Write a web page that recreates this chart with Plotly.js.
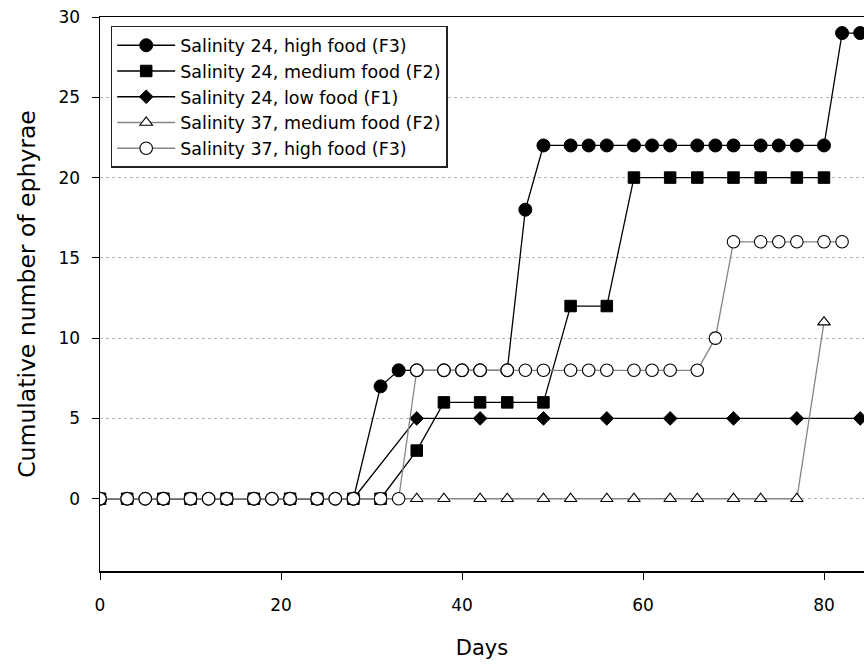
<!DOCTYPE html>
<html>
<head>
<meta charset="utf-8">
<script src="https://cdn.plot.ly/plotly-3.0.1.min.js"></script>
<style>html,body{margin:0;padding:0;background:#fff;}#chart{width:864px;height:664px;}</style>
</head>
<body>
<div id="chart"></div>
<script>
// Data
const seriesNames = [
  "Salinity 24, high food (F3)",
  "Salinity 24, medium food (F2)",
  "Salinity 24, low food (F1)",
  "Salinity 37, medium food (F2)",
  "Salinity 37, high food (F3)"
];

const daysS24F3 = [0,3,5,7,10,12,14,17,19,21,24,26,28,31,33,35,38,40,42,45,47,49,52,54,56,59,61,63,66,68,70,73,75,77,80,82,84];
const valsS24F3 = [0,0,0,0,0,0,0,0,0,0,0,0,0,7,8,8,8,8,8,8,18,22,22,22,22,22,22,22,22,22,22,22,22,22,22,29,29];

const daysS24F2 = [0,3,7,10,14,17,21,24,28,31,35,38,42,45,49,52,56,59,63,66,70,73,77,80];
const valsS24F2 = [0,0,0,0,0,0,0,0,0,0,3,6,6,6,6,12,12,20,20,20,20,20,20,20];

const daysS24F1 = [0,7,14,21,28,35,42,49,56,63,70,77,84];
const valsS24F1 = [0,0,0,0,0,5,5,5,5,5,5,5,5];

const daysS37F2 = [0,3,7,10,14,17,21,24,28,31,35,38,42,45,49,52,56,59,63,66,70,73,77,80];
const valsS37F2 = [0,0,0,0,0,0,0,0,0,0,0,0,0,0,0,0,0,0,0,0,0,0,0,11];

const daysS37F3 = [0,3,5,7,10,12,14,17,19,21,24,26,28,31,33,35,38,40,42,45,47,49,52,54,56,59,61,63,66,68,70,73,75,77,80,82];
const valsS37F3 = [0,0,0,0,0,0,0,0,0,0,0,0,0,0,0,8,8,8,8,8,8,8,8,8,8,8,8,8,8,10,16,16,16,16,16,16];

const xTickVals = [0,20,40,60,80];
const yTickVals = [0,5,10,15,20,25,30];

const FONT = "DejaVu Sans, Arial, sans-serif";
const BLACK_LINE = {color: "#000", width: 1.3};
const GRAY_LINE = {color: "#858585", width: 1.3};

const traces = [
  {x: daysS24F3, y: valsS24F3, name: seriesNames[0], mode: "lines+markers", line: BLACK_LINE,
   marker: {symbol: "circle", size: 13, color: "#000", line: {color: "#000", width: 1}}},
  {x: daysS24F2, y: valsS24F2, name: seriesNames[1], mode: "lines+markers", line: BLACK_LINE,
   marker: {symbol: "square", size: 11.5, color: "#000", line: {color: "#000", width: 1}}},
  {x: daysS24F1, y: valsS24F1, name: seriesNames[2], mode: "lines+markers", line: BLACK_LINE,
   marker: {symbol: "diamond", size: 10.5, color: "#000", line: {color: "#000", width: 1}}},
  {x: daysS37F2, y: valsS37F2, name: seriesNames[3], mode: "lines+markers", line: GRAY_LINE,
   marker: {symbol: "triangle-up", size: 11, color: "#fff", line: {color: "#000", width: 1.1}}},
  {x: daysS37F3, y: valsS37F3, name: seriesNames[4], mode: "lines+markers", line: GRAY_LINE,
   marker: {symbol: "circle", size: 12.5, color: "#fff", line: {color: "#000", width: 1.1}}}
];

const layout = {
  width: 864, height: 664,
  margin: {l: 100, r: 0, t: 17, b: 93, pad: 0},
  paper_bgcolor: "#fff", plot_bgcolor: "#fff",
  showlegend: true,
  font: {family: FONT, color: "#000", size: 17},
  xaxis: {
    range: [0, 84.42], tickvals: xTickVals, ticktext: xTickVals.map(String),
    showgrid: false, zeroline: false,
    showline: true, linecolor: "#000", linewidth: 1.5, mirror: true,
    ticks: "outside", ticklen: 7, tickwidth: 1, tickcolor: "#000",
    ticklabelstandoff: 11,
    tickfont: {family: FONT, size: 17, color: "#000"},
    title: {text: "Days", font: {family: FONT, size: 21, color: "#000"}, standoff: 26}
  },
  yaxis: {
    range: [-4.5, 30], tickvals: yTickVals, ticktext: yTickVals.map(String),
    showgrid: true, gridcolor: "#b4b4b4", griddash: "dot", gridwidth: 1,
    zeroline: false,
    showline: true, linecolor: "#000", linewidth: 1.5, mirror: false,
    ticks: "outside", ticklen: 7, tickwidth: 1, tickcolor: "#000",
    ticklabelstandoff: 8,
    tickfont: {family: FONT, size: 17, color: "#000"},
    title: {text: "Cumulative number of ephyrae", font: {family: FONT, size: 23.5, color: "#000"}, standoff: 16}
  },
  legend: {
    x: 0.014, y: 0.984, xanchor: "left", yanchor: "top",
    bgcolor: "#fff", bordercolor: "#222", borderwidth: 1.5,
    font: {family: FONT, size: 17.5, color: "#000"},
    itemwidth: 58, tracegroupgap: 0
  }
};

Plotly.newPlot("chart", traces, layout, {displayModeBar: false, staticPlot: true});
</script>
</body>
</html>
